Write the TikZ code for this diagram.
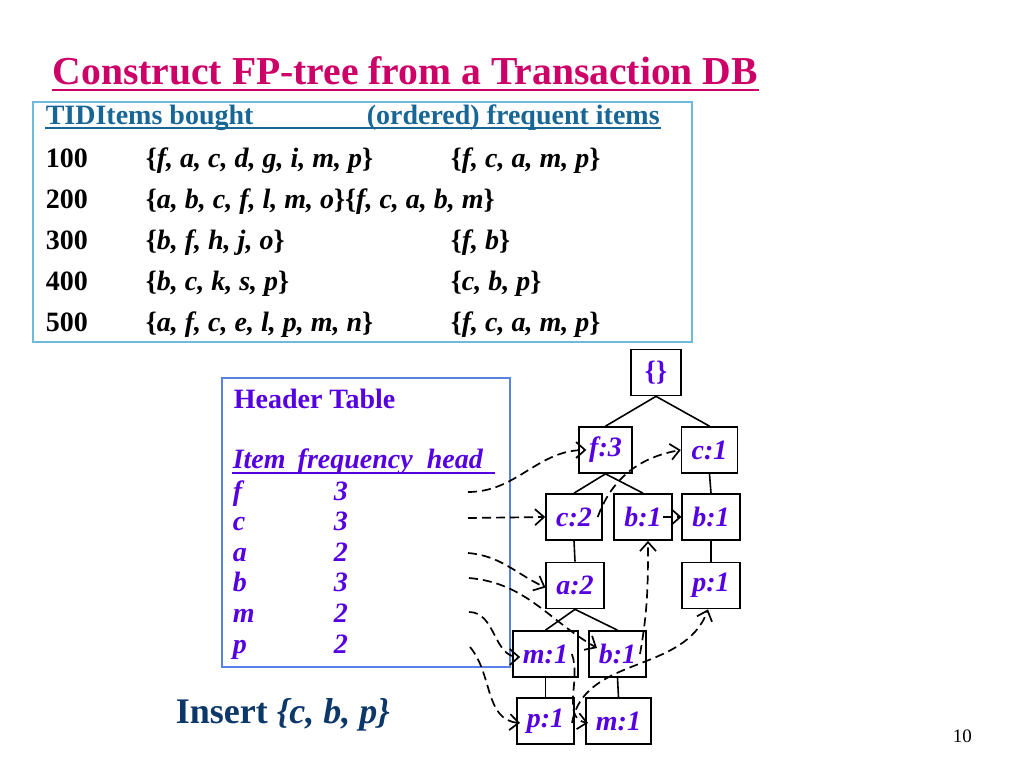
\documentclass[tikz,border=0pt]{standalone}
\usepackage{fontspec}
\setmainfont{Liberation Serif}
\usepackage{tikz}
\usetikzlibrary{arrows.meta}

\definecolor{titlered}{RGB}{204,0,102}
\definecolor{headteal}{RGB}{24,102,150}
\definecolor{tableblue}{RGB}{110,185,220}
\definecolor{htblue}{RGB}{90,130,230}
\definecolor{itempurple}{RGB}{85,0,225}
\definecolor{insertnavy}{RGB}{12,55,105}

\begin{document}
\begin{tikzpicture}[x = 1bp, y = -1bp, line width = 1.6bp,
    >={Straight Barb[length=9bp,width=16bp]},
    txt/.style = {anchor = base west, inner sep = 0pt,
      font = \fontsize{28bp}{32bp}\selectfont\bfseries},
    item/.style = {draw, line width = 1.7bp, minimum width = 50bp,
      minimum height = 46bp, inner xsep = 10bp, text = itempurple,
      font = \fontsize{28bp}{32bp}\selectfont\bfseries\itshape},
    link/.style = {->, line width = 1.7bp, dash pattern = on 9bp off 5bp}]
    \useasboundingbox (0,0) rectangle (1024,768);

    % title
    \node [txt, text = titlered, font = \fontsize{39.6bp}{44bp}\selectfont\bfseries]
        (title) at (52,85) {Construct FP-tree from a Transaction DB};
    \draw [titlered, line width = 2bp] ([yshift=-5bp]title.base west)
        -- ([yshift=-5bp]title.base east);

    % transaction table
    \draw [tableblue, line width = 1.5bp] (33,102) rectangle (692,342);
    \node [txt, text = headteal] (tid) at (45,124) {TIDItems bought};
    \node [txt, text = headteal] (ord) at (366,124) {(ordered) frequent items};
    \draw [headteal, line width = 1.5bp] ([yshift=-4bp]tid.base west)
        -- ([yshift=-4bp]ord.base east);

    \node [txt] (t100) at (45,167) {100};
    \node [txt] (i100) at (145,167) {\{\textit{f, a, c, d, g, i, m, p}\}};
    \node [txt] (o100) at (450,167) {\{\textit{f, c, a, m, p}\}};
    \node [txt] (t200) at (45,208) {200};
    \node [txt] (i200) at (145,208)
        {\{\textit{a, b, c, f, l, m, o}\}\{\textit{f, c, a, b, m}\}};
    \node [txt] (t300) at (45,249) {300};
    \node [txt] (i300) at (145,249) {\{\textit{b, f, h, j, o}\}};
    \node [txt] (o300) at (450,249) {\{\textit{f, b}\}};
    \node [txt] (t400) at (45,290) {400};
    \node [txt] (i400) at (145,290) {\{\textit{b, c, k, s, p}\}};
    \node [txt] (o400) at (450,290) {\{\textit{c, b, p}\}};
    \node [txt] (t500) at (45,331) {500};
    \node [txt] (i500) at (145,331) {\{\textit{a, f, c, e, l, p, m, n}\}};
    \node [txt] (o500) at (450,331) {\{\textit{f, c, a, m, p}\}};

    % header table
    \draw [htblue, line width = 1.5bp] (222,378) rectangle (510,667);
    \node [txt, text = itempurple] (htitle) at (233,408) {Header Table};
    \node [txt, text = itempurple, font = \fontsize{28bp}{32bp}\selectfont\bfseries\itshape]
        (hcols) at (232,468) {Item\hspace{12bp}frequency\hspace{14bp}head};
    \draw [itempurple, line width = 1.5bp] ([yshift=-5bp]hcols.base west)
        -- ++(263,0);
    \foreach \itm/\frq [count = \i from 0] in {f/3, c/3, a/2, b/3, m/2, p/2}
    {
        \node [txt, text = itempurple, font = \fontsize{28bp}{32bp}\selectfont\bfseries\itshape]
            (itm\i) at (232,500+30.6*\i) {\itm};
        \node [txt, text = itempurple, font = \fontsize{28bp}{32bp}\selectfont\bfseries\itshape]
            (frq\i) at (333,500+30.6*\i) {\frq};
    }

    % head pointers
    \coordinate (hf) at (468,492);
    \coordinate (hc) at (468,518);
    \coordinate (ha) at (468,553);
    \coordinate (hb) at (469,578);
    \coordinate (hm) at (469,612);
    \coordinate (hp) at (470,647);

    % fp-tree
    \node [item, font = \fontsize{28bp}{32bp}\selectfont\bfseries] (root) at (656,372.5) {\{\}};
    \node [item] (f3) at (605.5,450) {f:3};
    \node [item] (c1) at (709.5,450) {c:1};
    \node [item] (c2) at (574,517) {c:2};
    \node [item] (b1) at (643,517) {b:1};
    \node [item] (b1r) at (711,517) {b:1};
    \node [item] (a2) at (575,585.5) {a:2};
    \node [item] (p1r) at (711,585.5) {p:1};
    \node [item] (m1) at (545.5,654) {m:1};
    \node [item] (b1l) at (617.5,654) {b:1};
    \node [item] (p1l) at (545.5,721) {p:1};
    \node [item] (m1l) at (618.5,721) {m:1};

    \draw (root.south) -- (f3.north);
    \draw (root.south) -- (c1.north);
    \draw (f3.south) -- (c2.north);
    \draw (f3.south) -- (b1.north);
    \draw (c1.south) -- (b1r.north);
    \draw (c2.south) -- (a2.north);
    \draw (b1r.south) -- (p1r.north);
    \draw (a2.south) -- (m1.north);
    \draw (a2.south) -- (b1l.north);
    \draw (m1.south) -- (p1l.north);
    \draw (b1l.south) -- (m1l.north);

    % node-links
    \draw [link] (hf) to [out=0, in=180] ([xshift=8bp]f3.west);
    \draw [link] (hc) -- (c2.west);
    \draw [link] ([xshift=-5bp]c2.east) to [out=70, in=190] (c1.west);
    \draw [link] (ha) to [out=-5, in=155] ([yshift=-2bp]a2.west);
    \draw [link] (hb) to [out=-5, in=150] ([xshift=9bp,yshift=6bp]b1l.west);
    \draw [link] ([xshift=-7bp]b1l.east) to [out=80, in=-90] ([xshift=5bp]b1.south);
    \draw [link] ([xshift=-10bp]b1.east) -- (b1r.west);
    \draw [link] (hm) to [out=0, in=180] ([xshift=8bp,yshift=-3bp]m1.west);
    \draw [link] ([xshift=-7bp]m1.east) to [out=-70, in=170] ([xshift=3bp,yshift=-2bp]m1l.west);
    \draw [link] (hp) to [out=-50, in=175] ([xshift=4bp,yshift=-2bp]p1l.west);
    \draw [link] ([xshift=-3bp,yshift=-2bp]p1l.east) to [out=80, in=-110] ([xshift=-3bp]p1r.south);

    % bottom texts
    \node [txt, text = insertnavy, font = \fontsize{36bp}{40bp}\selectfont\bfseries]
        (insert) at (175,723) {Insert \textit{\{c, b, p\}}};
    \node [txt, font = \fontsize{19bp}{22bp}\selectfont] (pagenum) at (952,742) {10};
\end{tikzpicture}
\end{document}
